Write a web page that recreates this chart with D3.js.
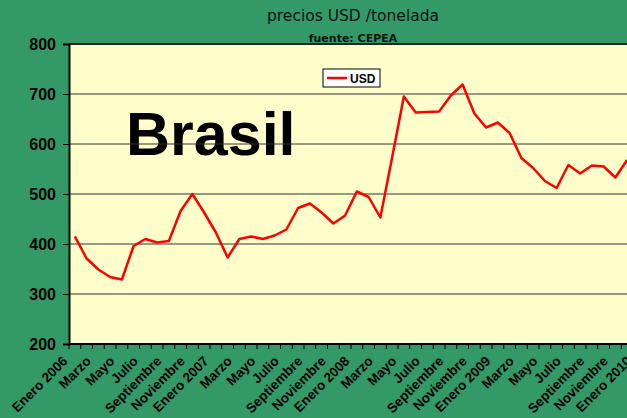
<!DOCTYPE html>
<html lang="es">
<head>
  <meta charset="utf-8">
  <title>precios USD /tonelada</title>
  <script src="https://d3js.org/d3.v7.min.js"></script>
  <style>
    body { margin: 0; background: #339966; overflow: hidden; }
    svg { display: block; }
  </style>
</head>
<body>
  <div id="chart"></div>

  <script type="text/javascript">
    "use strict"

    // meses de enero 2006 a enero 2010
    var nombresMes = ["Enero", "Febrero", "Marzo", "Abril", "Mayo", "Junio", "Julio",
                      "Agosto", "Septiembre", "Octubre", "Noviembre", "Diciembre"];
    var anios = [2006, 2007, 2008, 2009, 2010];

    // precio USD por tonelada (ene 2006 - dic 2009)
    var usd = [415, 371, 349, 334, 329, 396, 410, 403, 406, 466, 500, 463,
               423, 373, 410, 415, 410, 417, 429, 472, 481, 463, 441, 457,
               505, 494, 453, 573, 695, 663, 664, 665, 697, 719, 661, 633,
               643, 622, 572, 552, 526, 512, 558, 541, 557, 555, 533, 568];

    var ticksY = [200, 300, 400, 500, 600, 700, 800];

    var categorias = [];
    anios.forEach(function (a) {
      nombresMes.forEach(function (m, i) {
        if (a === 2010 && i > 0) return;
        categorias.push({ id: a + "-" + i, etiqueta: i === 0 ? m + " " + a : m, mes: i });
      });
    });

    var dados = usd.map(function (v, i) { return { cat: categorias[i].id, valor: v }; });

    var larguraSVG = 627, alturaSVG = 418;
    var margem = { top: 44, esquerda: 69, bottom: 74 };
    var paso = 11.75;
    var larguraVis = categorias.length * paso,
        alturaVis = alturaSVG - margem.top - margem.bottom;

    var svg = d3.select("#chart").append("svg")
        .attr("width", larguraSVG)
        .attr("height", alturaSVG);

    // titulos
    svg.append("text")
        .attr("x", 353).attr("y", 21)
        .attr("text-anchor", "middle")
        .style("font-family", "'DejaVu Sans', sans-serif")
        .style("font-size", "15.5px")
        .style("fill", "#111")
        .text("precios USD /tonelada");
    svg.append("text")
        .attr("x", 353).attr("y", 42)
        .attr("text-anchor", "middle")
        .style("font-family", "'DejaVu Sans', sans-serif")
        .style("font-weight", "bold")
        .style("font-size", "11px")
        .style("fill", "#111")
        .text("fuente: CEPEA");

    var grafico = svg.append("g")
        .attr("transform", "translate(" + margem.esquerda + "," + margem.top + ")");

    var x = d3.scaleBand()
        .domain(categorias.map(d => d.id))
        .range([0, larguraVis]);
    var y = d3.scaleLinear()
        .domain([200, 800])
        .range([alturaVis, 0]);

    grafico.append("rect")
        .attr("width", larguraVis + 10)
        .attr("height", alturaVis)
        .style("fill", "#ffffcc");

    // texto grande
    grafico.append("text")
        .attr("x", 126 - margem.esquerda).attr("y", 155 - margem.top)
        .style("font-family", "'Liberation Sans', Arial, sans-serif")
        .style("font-weight", "bold")
        .style("font-size", "61px")
        .style("fill", "#000")
        .text("Brasil");

    // lineas de grilla
    grafico.selectAll(".grid")
        .data(ticksY.slice(1))
        .enter()
        .append("line")
        .attr("class", "grid")
        .attr("x1", 0).attr("x2", larguraVis + 10)
        .attr("y1", d => y(d)).attr("y2", d => y(d))
        .style("stroke", d => d === 800 ? "#222" : "#333")
        .style("stroke-width", d => d === 800 ? 2 : 1);

    // eje y
    var ejeY = grafico.append("g")
        .call(d3.axisLeft(y).tickValues(ticksY).tickSize(6).tickPadding(7));
    ejeY.select(".domain").style("stroke", "#000").style("stroke-width", 2);
    ejeY.selectAll(".tick line").style("stroke", "#000");
    ejeY.selectAll("text")
        .style("font-family", "'Liberation Sans', Arial, sans-serif")
        .style("font-weight", "bold")
        .style("font-size", "16px")
        .style("fill", "#000");

    // eje x: marcas entre categorias
    var ejeX = grafico.append("g")
        .attr("transform", "translate(0," + alturaVis + ")");
    ejeX.append("line")
        .attr("x1", 0).attr("x2", larguraVis + 10)
        .style("stroke", "#000").style("stroke-width", 2);
    ejeX.selectAll(".marca")
        .data(categorias)
        .enter()
        .append("line")
        .attr("class", "marca")
        .attr("x1", d => x(d.id)).attr("x2", d => x(d.id))
        .attr("y1", 0).attr("y2", 5)
        .style("stroke", "#000");
    ejeX.selectAll(".etq")
        .data(categorias.filter(d => d.mes % 2 === 0))
        .enter()
        .append("text")
        .attr("class", "etq")
        .attr("transform", d => "translate(" + (x(d.id) + x.bandwidth() / 2 - 6.5) + ",18) rotate(-45)")
        .attr("text-anchor", "end")
        .style("font-family", "'Liberation Sans', Arial, sans-serif")
        .style("font-weight", "bold")
        .style("font-size", "13.5px")
        .style("fill", "#000")
        .text(d => d.etiqueta);

    // la serie
    var linha = d3.line()
        .x(d => x(d.cat) + x.bandwidth() / 2)
        .y(d => y(d.valor));
    grafico.append("path")
        .datum(dados)
        .attr("d", linha)
        .style("fill", "none")
        .style("stroke", "#ff0000")
        .style("stroke-width", 2.5)
        .style("stroke-linejoin", "round");

    // leyenda
    var leyenda = svg.append("g").attr("transform", "translate(323,69)");
    leyenda.append("rect")
        .attr("width", 57).attr("height", 18)
        .style("fill", "#fff").style("stroke", "#000");
    leyenda.append("line")
        .attr("x1", 4).attr("x2", 24).attr("y1", 9).attr("y2", 9)
        .style("stroke", "#ff0000").style("stroke-width", 2.5);
    leyenda.append("text")
        .attr("x", 27).attr("y", 13.5)
        .style("font-family", "'Liberation Sans', Arial, sans-serif")
        .style("font-weight", "bold")
        .style("font-size", "12px")
        .text("USD");
  </script>
</body>
</html>
